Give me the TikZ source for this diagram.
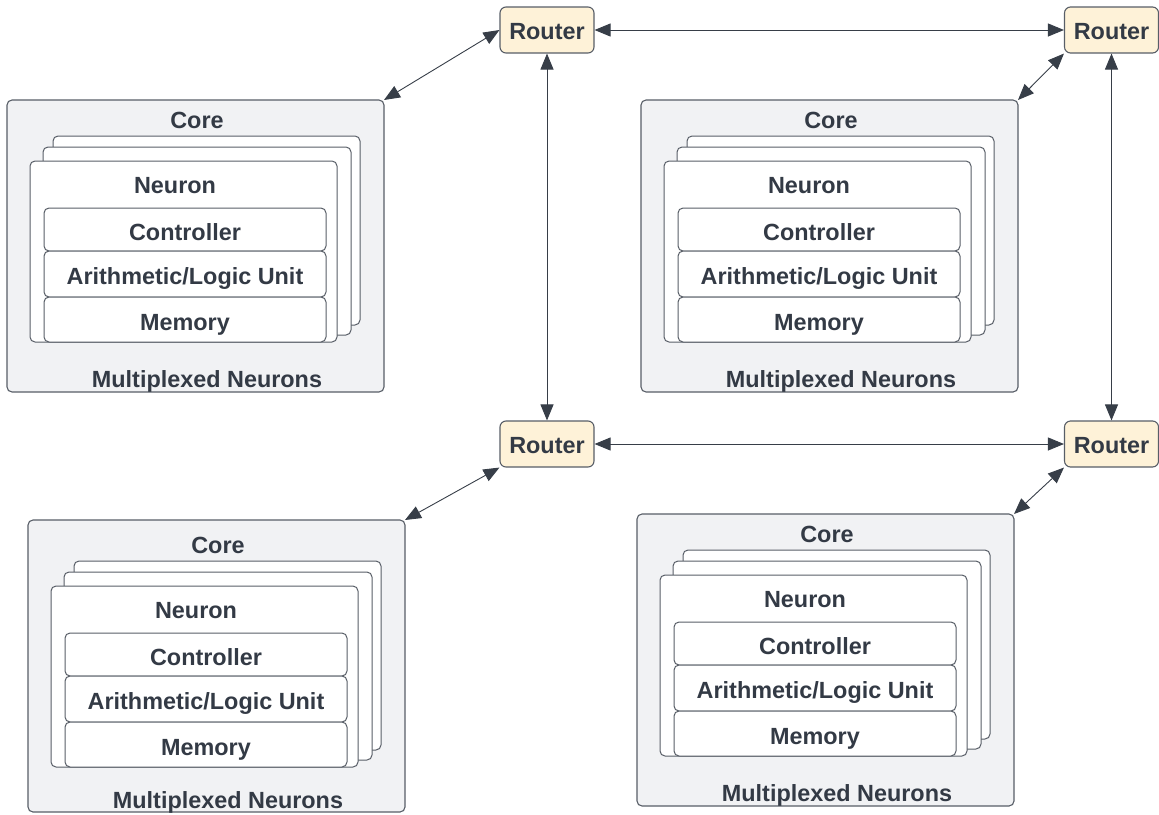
\documentclass[tikz,border=0pt]{standalone}
\usepackage{fontspec}
\setmainfont{Liberation Sans}
\usetikzlibrary{arrows.meta}
\definecolor{txt}{RGB}{51,58,69}
\definecolor{edge}{RGB}{88,94,103}
\definecolor{corefill}{RGB}{241,242,244}
\definecolor{routerfill}{RGB}{254,242,216}
\definecolor{arrowc}{RGB}{55,62,72}
\tikzset{
  base/.style={rectangle, inner sep=0pt, outer sep=0pt, anchor=north west, draw=edge, line width=1pt, rounded corners=5pt, text=txt, font=\fontsize{23.4}{27}\selectfont\bfseries, text height=21pt, text depth=0pt},
  corebox/.style={base, fill=corefill, line width=1.1pt, minimum width=377pt, minimum height=292pt},
  sheet/.style={base, fill=white},
  part/.style={base, fill=white, minimum width=282pt},
  lbl/.style={inner sep=0pt, outer sep=0pt, text=txt, font=\fontsize{23.4}{27}\selectfont\bfseries, text height=16pt, text depth=0pt},
  router/.style={rectangle, inner sep=0pt, draw=edge, line width=1.1pt, rounded corners=6pt, fill=routerfill, minimum width=94pt, minimum height=46pt, text=txt, font=\fontsize{23.4}{27}\selectfont\bfseries, text height=18pt, text depth=0pt},
  conn/.style={draw=arrowc, line width=0.9pt, {Triangle[length=16pt,width=13pt]}-{Triangle[length=16pt,width=13pt]}}
}
% #1 x, #2 y, #3 name, #4 content dy, #5 dy of bottom label
\newcommand\mkcore[5]{%
  \begin{scope}[shift={(#1,#2)}]
    \node[corebox] (#3) at (0,0) {};
    \node[sheet, minimum width=307pt, minimum height=189pt] (#3s3) at (46,36+#4) {};
    \node[sheet, minimum width=308pt, minimum height=188pt] (#3s2) at (36,47+#4) {};
    \node[sheet, minimum width=307pt, minimum height=181pt] (#3s1) at (23,61+#4) {};
    \node[part, minimum height=43pt] (#3ctrl) at (37,108+#4) {Controller};
    \node[part, minimum height=46pt] (#3alu) at (37,151+#4) {Arithmetic/Logic Unit};
    \node[part, minimum height=45pt] (#3mem) at (37,197+#4) {Memory};
    \node[lbl] (#3t) at (190,20+#4) {Core};
    \node[lbl] (#3n) at (168,85+#4) {Neuron};
    \node[lbl] (#3m) at (200,279+#5) {Multiplexed Neurons};
  \end{scope}}
\begin{document}
\begin{tikzpicture}[x=1pt,y=-1pt]
\useasboundingbox (0,0) rectangle (1159,814);
\mkcore{7}{100}{cTL}{0}{0}
\mkcore{641}{100}{cTR}{0}{0}
\mkcore{28}{520}{cBL}{5}{1}
\mkcore{637}{514}{cBR}{0}{0}
\node[router] (rTL) at (547,30) {Router};
\node[router] (rTR) at (1111.5,30) {Router};
\node[router] (rBL) at (547,444) {Router};
\node[router] (rBR) at (1111.5,444) {Router};
\draw[conn] (cTL.north east) -- (rTL.west);
\draw[conn] (cTR.north east) -- (rTR.south west);
\draw[conn] (cBL.north east) -- (rBL.south west);
\draw[conn] (cBR.north east) -- (rBR.south west);
\draw[conn] (rTL.east) -- (rTR.west);
\draw[conn] (rBL.east) -- (rBR.west);
\draw[conn] (rTL.south) -- (rBL.north);
\draw[conn] (rTR.south) -- (rBR.north);
\end{tikzpicture}
\end{document}
